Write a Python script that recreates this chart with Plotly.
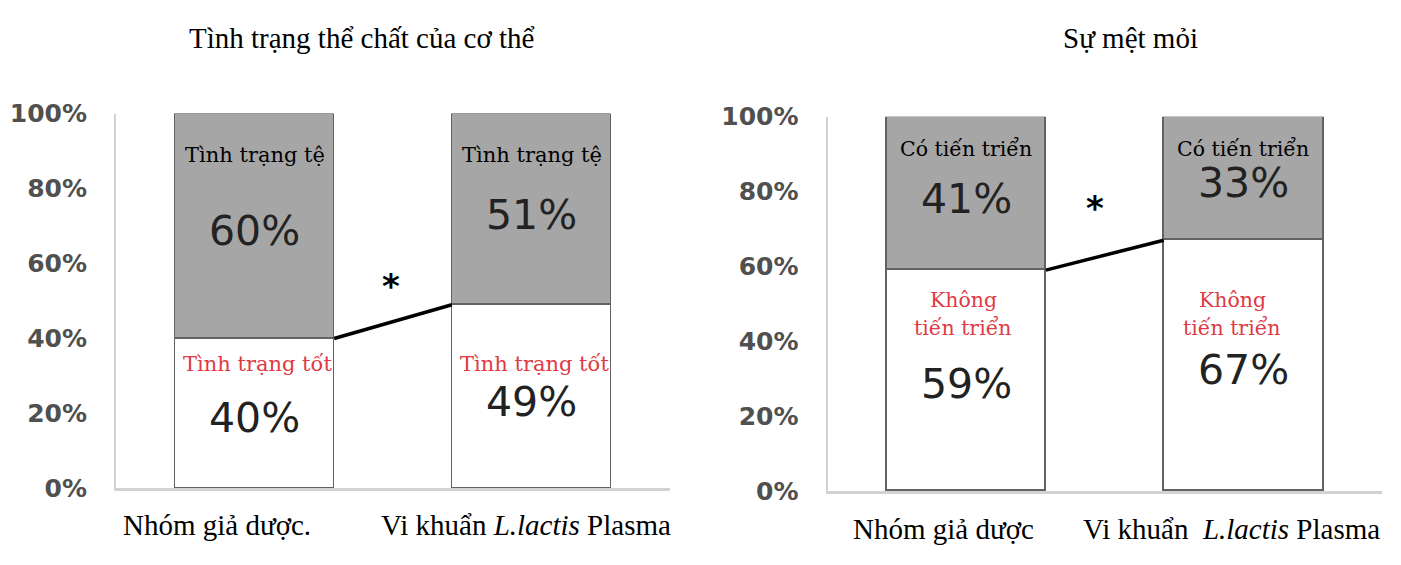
import plotly.graph_objects as go

# ---------------- data ----------------
left_title = "Tình trạng thể chất của cơ thể"
right_title = "Sự mệt mỏi"

left_categories = ["Nhóm giả dược.", "Vi khuẩn <i>L.lactis</i> Plasma"]
left_good = [40, 49]          # Tình trạng tốt
left_bad = [60, 51]           # Tình trạng tệ
left_good_label = "Tình trạng tốt"
left_bad_label = "Tình trạng tệ"

right_categories = ["Nhóm giả dược", "Vi khuẩn  <i>L.lactis</i> Plasma"]
right_good = [59, 67]         # Không tiến triển
right_bad = [41, 33]          # Có tiến triển
right_good_label = ["Không", "tiến triển"]
right_bad_label = "Có tiến triển"

tick_vals = [0, 20, 40, 60, 80, 100]
tick_text = ["0%", "20%", "40%", "60%", "80%", "100%"]
# --------------------------------------

W, H = 1401, 565
BAR_W = 0.575
xpos = [1, 2]

GRAY = "#a6a6a6"
EDGE = "#626262"
RED = "#e03a44"
SERIF = "Liberation Serif"
INSERIF = "DejaVu Serif"
SANS = "DejaVu Sans"
AXIS = "#d2d2d2"
NUM = "#222222"

fig = go.Figure()


def add_panel(xa, ya, good, bad):
    fig.add_trace(go.Bar(x=xpos, y=good, width=BAR_W, xaxis=xa, yaxis=ya,
                         marker=dict(color="white", line=dict(color=EDGE, width=1.5)),
                         showlegend=False, hoverinfo="skip"))
    fig.add_trace(go.Bar(x=xpos, y=bad, width=BAR_W, xaxis=xa, yaxis=ya,
                         marker=dict(color=GRAY, line=dict(color=EDGE, width=1.5)),
                         showlegend=False, hoverinfo="skip"))
    fig.add_trace(go.Scatter(x=[xpos[0] + BAR_W / 2, xpos[1] - BAR_W / 2], y=good,
                             xaxis=xa, yaxis=ya, mode="lines",
                             line=dict(color="black", width=3.5),
                             showlegend=False, hoverinfo="skip"))


add_panel("x", "y", left_good, left_bad)
add_panel("x2", "y2", right_good, right_bad)

ann = []


def txt(xref, yref, x, y, text, size, color="black", family=SERIF, weight="normal"):
    ann.append(dict(xref=xref, yref=yref, x=x, y=y, text=text, showarrow=False,
                    font=dict(family=family, size=size, color=color, weight=weight),
                    xanchor="center", yanchor="middle"))


# titles
txt("paper", "paper", 362 / W, 1 - 25 / H, left_title, 29)
txt("paper", "paper", 1130 / W, 1 - 25 / H, right_title, 29)

# left panel in-bar labels
for i, (g, b) in enumerate(zip(left_good, left_bad)):
    x = xpos[i]
    txt("x", "y", x, 89, left_bad_label, 21, "black", INSERIF)
    txt("x", "y", x, [68.6, 72.9][i], f"{b}%", 41, NUM, SANS)
    txt("x", "y", x + 0.01, 33.2, left_good_label, 21, RED, INSERIF)
    txt("x", "y", x, [18.7, 23.0][i], f"{g}%", 41, NUM, SANS)
txt("x", "y", 1.491, 54.0, "*", 34, "black", SANS, "bold")
txt("paper", "paper", 217 / W, 1 - 539 / H, left_categories[0], 29)
txt("paper", "paper", 526 / W, 1 - 539 / H, left_categories[1], 29)

# right panel in-bar labels
for i, (g, b) in enumerate(zip(right_good, right_bad)):
    x = xpos[i]
    txt("x2", "y2", x, 91.5, right_bad_label, 20.5, "black", INSERIF)
    txt("x2", "y2", x, [78.0, 82.3][i], f"{b}%", 41, NUM, SANS)
    dx = [-0.01, -0.04][i]
    txt("x2", "y2", x + dx, 51.0, right_good_label[0], 20.5, RED, INSERIF)
    txt("x2", "y2", x + dx, 43.5, right_good_label[1], 20.5, RED, INSERIF)
    txt("x2", "y2", x, [28.6, 32.4][i], f"{g}%", 41, NUM, SANS)
txt("x2", "y2", 1.464, 75.5, "*", 34, "black", SANS, "bold")
txt("paper", "paper", 943 / W, 1 - 543 / H, right_categories[0], 29)
txt("paper", "paper", 1231 / W, 1 - 543 / H, right_categories[1], 29)

xcommon = dict(range=[0.5, 2.5], showline=True, linecolor=AXIS, linewidth=3,
               showticklabels=False, showgrid=False, zeroline=False, ticks="",
               fixedrange=True)
ycommon = dict(range=[0, 100], tickvals=tick_vals, ticktext=tick_text,
               showline=True, linecolor=AXIS, linewidth=2, showgrid=False,
               zeroline=False, ticks="", ticklabelstandoff=22,
               tickfont=dict(family=SANS, size=25, color="#505050", weight="bold"),
               fixedrange=True)

fig.update_layout(
    width=W, height=H,
    margin=dict(l=0, r=0, t=0, b=0),
    paper_bgcolor="white", plot_bgcolor="white",
    barmode="stack", bargap=0,
    xaxis=dict(domain=[116 / W, 670 / W], anchor="y", **xcommon),
    yaxis=dict(domain=[1 - 500 / H, 1 - 105 / H], anchor="x", **ycommon),
    xaxis2=dict(domain=[827.5 / W, 1382 / W], anchor="y2", **xcommon),
    yaxis2=dict(domain=[1 - 502.7 / H, 1 - 108.3 / H], anchor="x2", **ycommon),
    annotations=ann,
)

fig.write_html("out.html", config={"displayModeBar": False},
               post_script="document.body.style.margin='0';")
